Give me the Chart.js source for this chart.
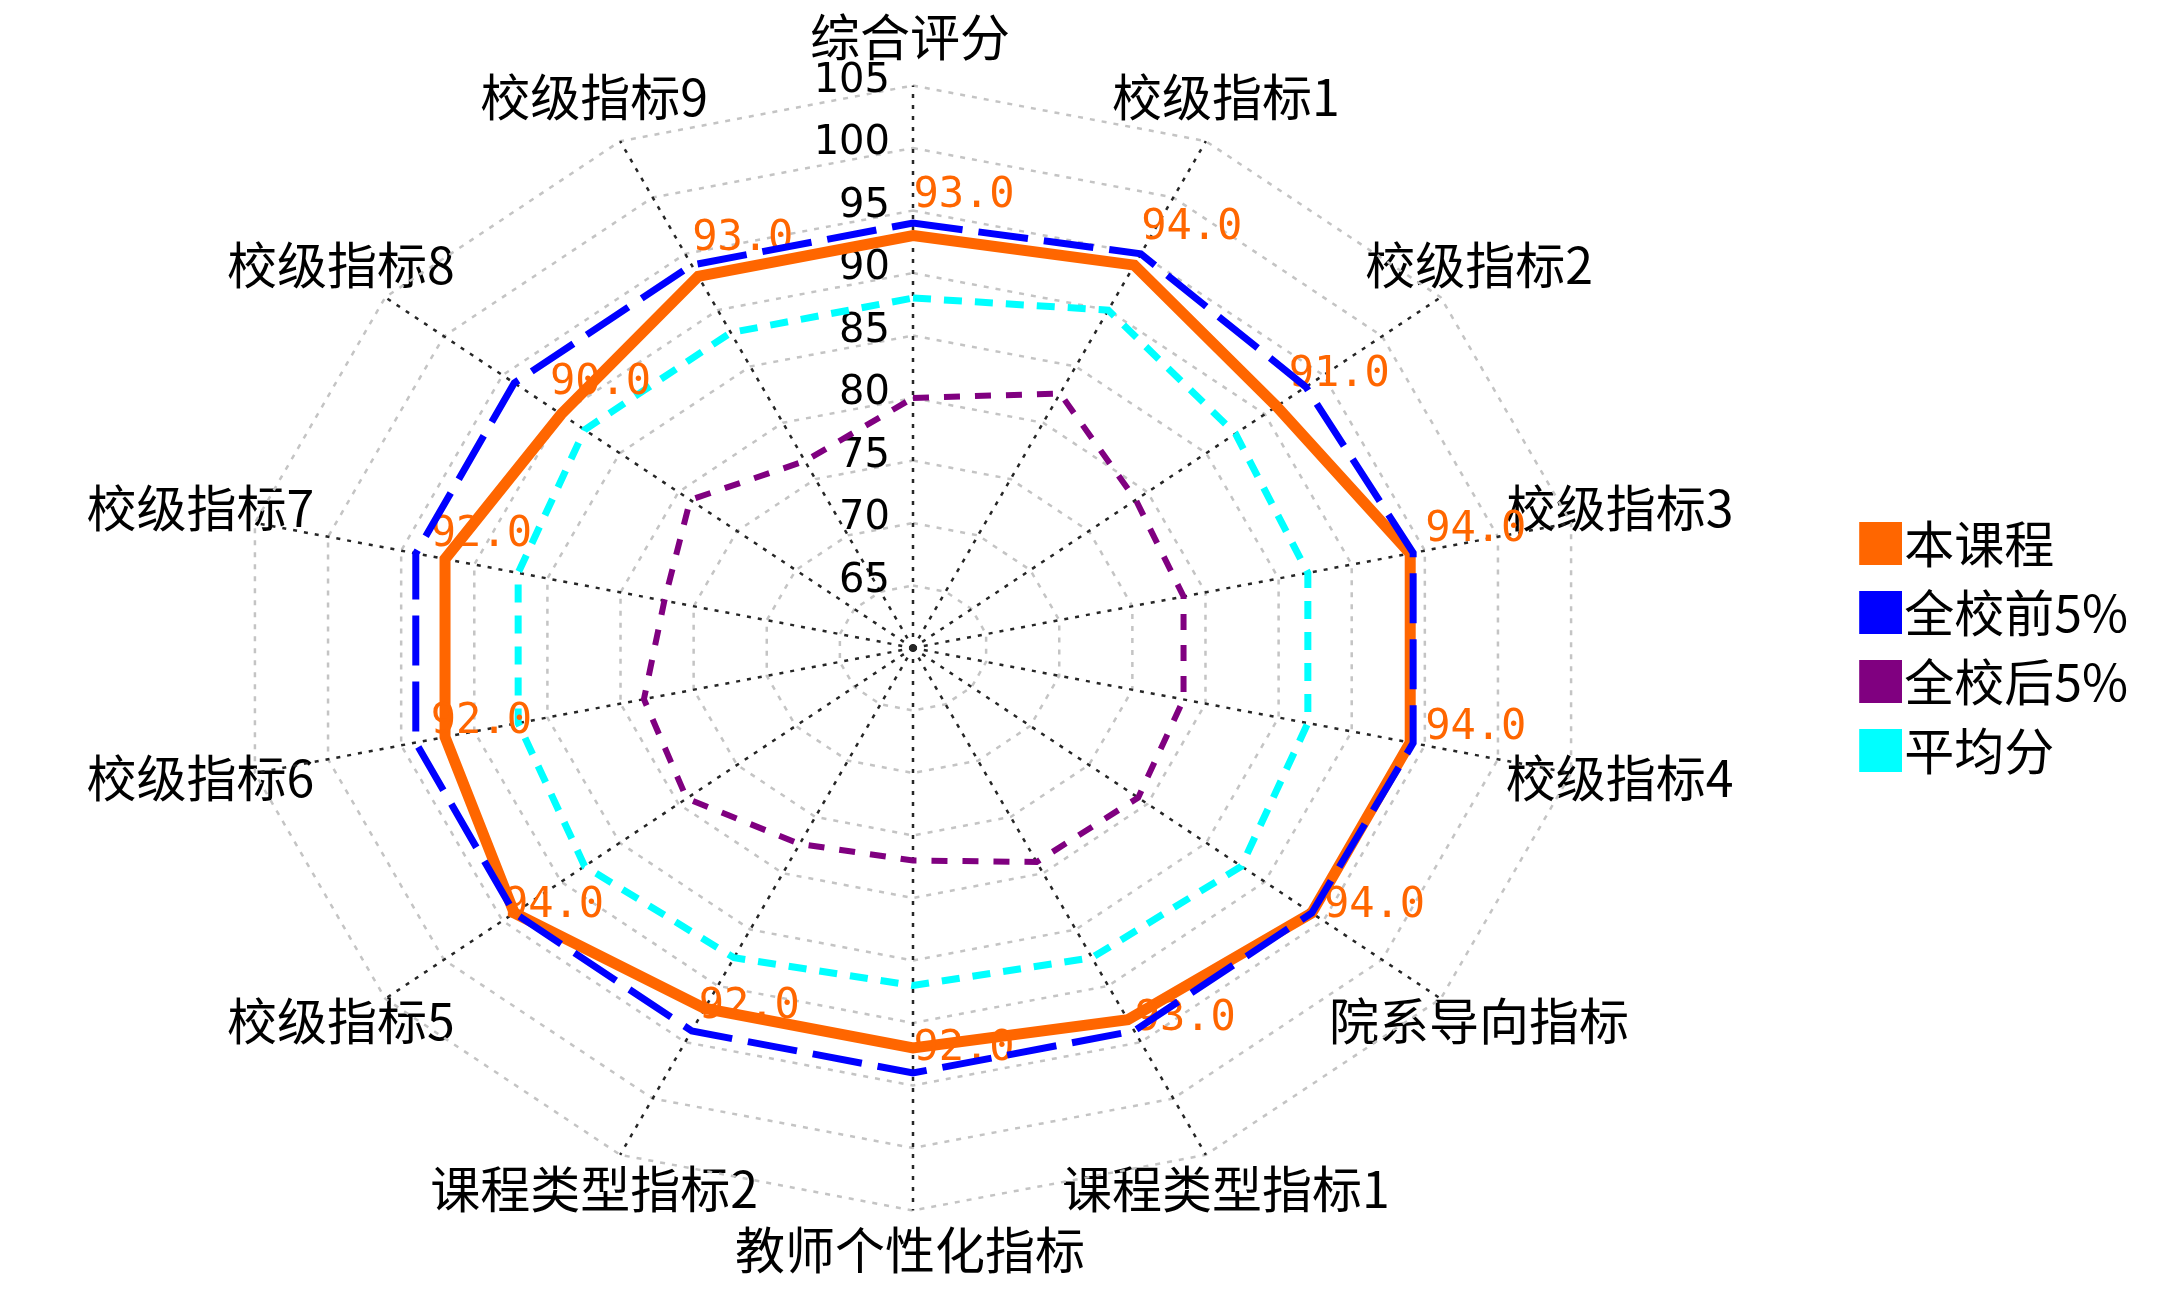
<!DOCTYPE html>
<html>
<head>
<meta charset="utf-8">
<script src="https://cdn.jsdelivr.net/npm/chart.js@4.4.1/dist/chart.umd.min.js"></script>
<style>
  html, body { margin: 0; padding: 0; background: #ffffff; }
  #wrap { width: 2165px; height: 1294px; position: relative; background: #ffffff; }
  canvas { display: block; }
</style>
</head>
<body>
<div id="wrap"><canvas id="chart" width="2165" height="1294"></canvas></div>
<script>
// ---------------- data ----------------
const categories = ['综合评分', '校级指标1', '校级指标2', '校级指标3', '校级指标4', '院系导向指标',
  '课程类型指标1', '教师个性化指标', '课程类型指标2', '校级指标5', '校级指标6', '校级指标7',
  '校级指标8', '校级指标9'];
const seriesNames = ['本课程', '全校前5%', '全校后5%', '平均分'];
const courseScores  = [93, 94, 91, 94, 94, 94, 93, 92, 92, 94, 92, 92, 90, 93];
const top5Scores    = [94, 95, 93.5, 94.2, 94.2, 94, 94, 94, 94, 94, 94, 94, 94, 94];
const bottom5Scores = [80, 82.6, 79, 78.5, 78.5, 79.2, 79, 77, 77.4, 79.3, 78.4, 77, 79, 76.6];
const averageScores = [88, 90, 87.5, 87, 87, 88, 87.5, 87, 87.5, 88, 87, 87, 88, 88];
const tickLabels    = ['65', '70', '75', '80', '85', '90', '95', '100', '105'];
const axisMin = 60, axisMax = 105, axisStep = 5;

// ---------------- layout / style ----------------
const GEOM = { cx: 913, cy: 648, radius: 562.5, stretchX: 1.2 };
const LABEL_FONT_SIZE = 50;
const CJK = '"Noto Sans CJK SC", "Noto Sans", sans-serif';
const COLORS = ['#FF6600', '#0000FF', '#800080', '#00FFFF'];

// Radial scale drawn on a horizontally stretched (elliptical) grid
class StretchedRadialScale extends Chart.RadialLinearScale {
  static id = 'stretchedRadial';
  setCenterPoint() {
    this.xCenter = GEOM.cx;
    this.yCenter = GEOM.cy;
    this.drawingArea = GEOM.radius;
  }
  getPointPosition(index, distanceFromCenter, additionalAngle = 0) {
    const angle = this.getIndexAngle(index) - Math.PI / 2 + additionalAngle;
    return {
      x: this.xCenter + Math.cos(angle) * distanceFromCenter * GEOM.stretchX,
      y: this.yCenter + Math.sin(angle) * distanceFromCenter,
      angle
    };
  }
  fit() {
    super.fit();
    const items = this._pointLabelItems || [];
    const lh = LABEL_FONT_SIZE * 1.2;
    items.forEach((item, i) => {
      const p = this.getPointPosition(i, this.drawingArea + 44);
      const x = p.x - 3, yMid = p.y - 5;
      const w = item.right - item.left;
      item.visible = true;
      item.textAlign = 'center';
      item.x = x;
      item.y = yMid - lh / 2;
      item.top = item.y;
      item.bottom = item.y + lh;
      item.left = x - w / 2;
      item.right = x + w / 2;
    });
  }
  drawLabels() {
    const ctx = this.ctx;
    const t = this.options.ticks;
    if (!t.display) return;
    ctx.save();
    ctx.font = '40px "DejaVu Sans", sans-serif';
    ctx.fillStyle = '#000000';
    ctx.textAlign = 'right';
    ctx.textBaseline = 'middle';
    this.ticks.forEach((tick) => {
      if (tick.value <= this.min) return;
      const off = this.getDistanceFromCenterForValue(tick.value);
      ctx.fillText(tick.label, this.xCenter - 23, this.yCenter - off - 4);
    });
    ctx.restore();
  }
}
Chart.register(StretchedRadialScale);

// value labels of the first series, drawn right after that series
const valueLabels = {
  id: 'valueLabels',
  afterDatasetDraw(chart, args) {
    if (args.index !== 0) return;
    const scale = chart.scales.r;
    const ctx = chart.ctx;
    ctx.save();
    ctx.font = '42px "DejaVu Sans Mono", monospace';
    ctx.fillStyle = '#FF6600';
    ctx.textAlign = 'center';
    ctx.textBaseline = 'middle';
    args.meta.data.forEach((pt, i) => {
      const th = scale.getIndexAngle(i);
      ctx.fillText(courseScores[i].toFixed(1), pt.x + 51 + 15 * Math.sin(th), pt.y - 19 - 20 * Math.cos(th));
    });
    ctx.restore();
  }
};

// legend swatches
function swatch(color) {
  const c = document.createElement('canvas');
  c.width = 46; c.height = 43;
  const g = c.getContext('2d');
  g.fillStyle = color;
  g.fillRect(0, 0, 46, 43);
  return c;
}
const swatches = COLORS.map(swatch);

const lineStyles = [
  { width: 11, dash: [] },
  { width: 7, dash: [50, 16] },
  { width: 6, dash: [16, 15] },
  { width: 7, dash: [18, 13] }
];
const seriesData = [courseScores, top5Scores, bottom5Scores, averageScores];
const drawOrder = [1, 0, 3, 2];

const datasets = seriesNames.map((name, i) => ({
  label: name,
  data: seriesData[i],
  borderColor: COLORS[i],
  backgroundColor: COLORS[i],
  borderWidth: lineStyles[i].width,
  borderDash: lineStyles[i].dash,
  borderCapStyle: 'butt',
  borderJoinStyle: 'miter',
  fill: false,
  pointRadius: 0,
  pointHoverRadius: 0,
  tension: 0,
  order: drawOrder[i]
}));

new Chart(document.getElementById('chart'), {
  type: 'radar',
  data: { labels: categories, datasets },
  plugins: [valueLabels],
  options: {
    responsive: false,
    animation: false,
    devicePixelRatio: 1,
    layout: { padding: { left: 0, right: 27, top: 0, bottom: 0 } },
    scales: {
      r: {
        type: 'stretchedRadial',
        min: axisMin,
        max: axisMax,
        ticks: {
          stepSize: axisStep,
          display: true,
          showLabelBackdrop: false,
          color: '#000000',
          font: { size: 40, family: '"DejaVu Sans", sans-serif' },
          callback: (v) => tickLabels[tickLabels.indexOf(String(v))] || String(v)
        },
        grid: { color: '#c4c4c4', lineWidth: 2.5 },
        border: { dash: [5, 7] },
        angleLines: { display: true, color: '#262626', lineWidth: 2.5, borderDash: [4, 7] },
        pointLabels: {
          display: true,
          color: '#000000',
          padding: 10,
          font: { size: LABEL_FONT_SIZE, family: CJK }
        }
      }
    },
    plugins: {
      tooltip: { enabled: false },
      legend: {
        position: 'right',
        align: 'center',
        labels: {
          usePointStyle: true,
          pointStyleWidth: 1,
          boxHeight: 43,
          padding: 19,
          color: '#000000',
          font: { size: LABEL_FONT_SIZE, family: CJK },
          sort: (a, b) => a.datasetIndex - b.datasetIndex,
          generateLabels(chart) {
            const items = Chart.defaults.plugins.legend.labels.generateLabels(chart);
            items.forEach((it) => { it.pointStyle = swatches[it.datasetIndex]; });
            return items;
          }
        }
      }
    }
  }
});
</script>
</body>
</html>
